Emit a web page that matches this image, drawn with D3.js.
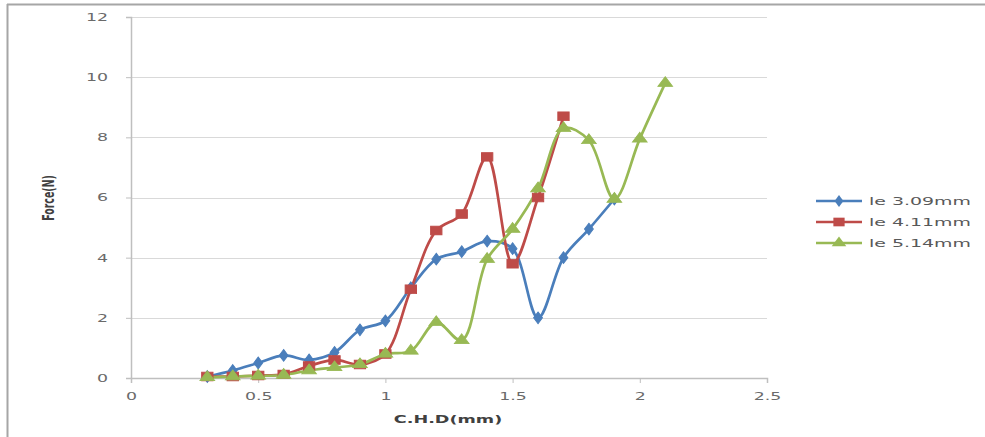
<!DOCTYPE html>
<html><head><meta charset="utf-8">
<script src="https://cdn.jsdelivr.net/npm/d3@7"></script>
<style>body{margin:0;background:#fff;}svg{display:block;}</style>
</head><body>
<svg id="c" width="985" height="437"></svg>
<script>
const seriesNames = ["le 3.09mm", "le 4.11mm", "le 5.14mm"];
const xBlue = [0.3,0.4,0.5,0.6,0.7,0.8,0.9,1.0,1.1,1.2,1.3,1.4,1.5,1.6,1.7,1.8,1.9];
const yBlue = [0.05,0.25,0.5,0.75,0.6,0.85,1.6,1.9,3.0,3.95,4.2,4.55,4.3,2.0,4.0,4.95,5.95];
const xRed = [0.3,0.4,0.5,0.6,0.7,0.8,0.9,1.0,1.1,1.2,1.3,1.4,1.5,1.6,1.7];
const yRed = [0.05,0.05,0.08,0.12,0.4,0.6,0.45,0.8,2.95,4.9,5.45,7.35,3.8,6.0,8.7];
const xGreen = [0.3,0.4,0.5,0.6,0.7,0.8,0.9,1.0,1.1,1.2,1.3,1.4,1.5,1.6,1.7,1.8,1.9,2.0,2.1];
const yGreen = [0.02,0.05,0.07,0.1,0.25,0.35,0.45,0.8,0.9,1.85,1.25,3.95,4.95,6.3,8.3,7.9,5.95,7.95,9.8];
const xTicks = [0,0.5,1,1.5,2,2.5];
const xTickLabels = ["0","0.5","1","1.5","2","2.5"];
const yTicks = [0,2,4,6,8,10,12];
const xTitle = "C.H.D(mm)";
const yTitle = "Force(N)";

const colors = ["#4A7EBB","#BE4B48","#98B954"];
const series = [
  {name: seriesNames[0], xs: xBlue, ys: yBlue, color: colors[0], sym: d3.symbolDiamond, size: 40},
  {name: seriesNames[1], xs: xRed, ys: yRed, color: colors[1], sym: d3.symbolSquare, size: 75},
  {name: seriesNames[2], xs: xGreen, ys: yGreen, color: colors[2], sym: d3.symbolTriangle, size: 55}
];

function stretch(sel, f) {
  sel.each(function(){
    const len = this.getComputedTextLength();
    d3.select(this).attr("textLength", len * f).attr("lengthAdjust","spacingAndGlyphs");
  });
}

const svg = d3.select("#c");
// outer frame
svg.append("line").attr("x1",7).attr("x2",985).attr("y1",4.5).attr("y2",4.5).attr("stroke","#a6a6a6").attr("stroke-width",2);
svg.append("line").attr("x1",7.5).attr("x2",7.5).attr("y1",4).attr("y2",437).attr("stroke","#a6a6a6").attr("stroke-width",2);

const x = d3.scaleLinear().domain([0,2.5]).range([131,767]);
const y = d3.scaleLinear().domain([0,12]).range([378,17]);

// gridlines
svg.append("g").selectAll("line").data(yTicks.filter(d=>d>0)).join("line")
  .attr("x1",x(0)).attr("x2",x(2.5)).attr("y1",d=>Math.round(y(d))+0.5).attr("y2",d=>Math.round(y(d))+0.5)
  .attr("stroke","#d9d9d9").attr("stroke-width",1.2);

const tickFont = s => s.attr("fill","#6a6a6a").style("font-family","DejaVu Sans").style("font-size","10.5px");

// y axis
const yAxis = svg.append("g").attr("transform",`translate(${x(0)},0)`)
  .call(d3.axisLeft(y).tickValues(yTicks).tickSize(5).tickPadding(18));
yAxis.select(".domain").attr("stroke","#bfbfbf").attr("stroke-width",1.5);
yAxis.selectAll(".tick line").attr("stroke","#bfbfbf");
yAxis.selectAll("text").call(tickFont).call(stretch, 1.65);

// x axis
const xAxis = svg.append("g").attr("transform",`translate(0,${y(0)})`)
  .call(d3.axisBottom(x).tickValues(xTicks).tickFormat((d,i)=>xTickLabels[i]).tickSize(5).tickPadding(10));
xAxis.select(".domain").attr("stroke","#bfbfbf").attr("stroke-width",1.5);
xAxis.selectAll(".tick line").attr("stroke","#bfbfbf");
xAxis.selectAll("text").call(tickFont).call(stretch, 1.65);

// titles
svg.append("text").attr("x",448).attr("y",423).attr("text-anchor","middle")
  .style("font-family","DejaVu Sans").style("font-size","11px").style("font-weight","bold").attr("fill","#404040").text(xTitle)
  .call(stretch, 1.6);
svg.append("text").attr("transform","translate(54,198) rotate(-90) scale(1,1.5)").attr("text-anchor","middle")
  .style("font-family","Liberation Sans Narrow, DejaVu Sans Condensed, Liberation Sans").style("font-size","10.5px").style("font-weight","bold").attr("fill","#404040").text(yTitle);

// lines
const line = d3.line().x(d=>x(d[0])).y(d=>y(d[1])).curve(d3.curveCatmullRom.alpha(0.5));
series.forEach(s=>{
  const pts = s.xs.map((v,i)=>[v,s.ys[i]]);
  svg.append("path").datum(pts).attr("d",line).attr("fill","none").attr("stroke",s.color).attr("stroke-width",2.7).attr("stroke-linejoin","round");
});
series.forEach(s=>{
  const pts = s.xs.map((v,i)=>[v,s.ys[i]]);
  svg.append("g").selectAll("path").data(pts).join("path")
    .attr("transform",d=>`translate(${x(d[0])},${y(d[1])}) scale(1.3,1)`)
    .attr("d",d3.symbol().type(s.sym).size(s.size)).attr("fill",s.color).attr("stroke",s.color).attr("stroke-width",0.8);
});

// legend
const lg = svg.append("g");
series.forEach((s,i)=>{
  const yy = 201 + i*21;
  lg.append("line").attr("x1",816).attr("x2",862).attr("y1",yy).attr("y2",yy).attr("stroke",s.color).attr("stroke-width",2.4);
  lg.append("path").attr("transform",`translate(839,${yy}) scale(1.3,1)`).attr("d",d3.symbol().type(s.sym).size(s.size)).attr("fill",s.color);
  lg.append("text").attr("x",869).attr("y",yy+4).style("font-family","DejaVu Sans").style("font-size","11px").attr("fill","#595959").text(s.name)
    .call(stretch, 1.72);
});
</script>
</body></html>
